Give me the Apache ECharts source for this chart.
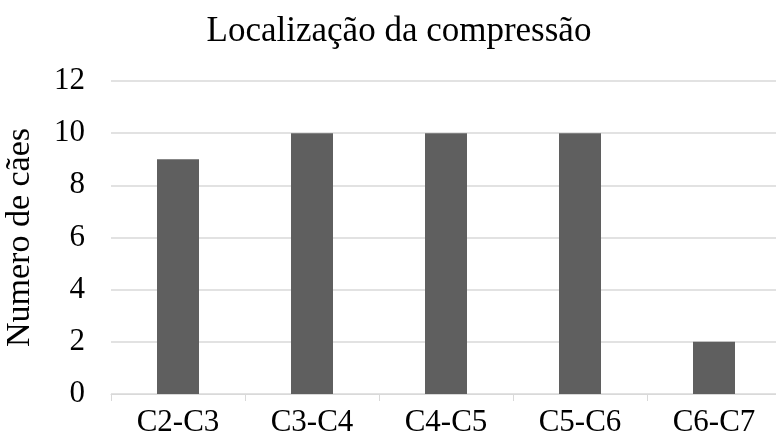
<!DOCTYPE html>
<html>
<head>
<meta charset="utf-8">
<script src="https://cdn.jsdelivr.net/npm/echarts@6/dist/echarts.min.js"></script>
<style>
  html, body { margin: 0; padding: 0; background: #fff; }
  #main { width: 776px; height: 444px; }
</style>
</head>
<body>
<div id="main"></div>
<script>
const categories = ['C2-C3', 'C3-C4', 'C4-C5', 'C5-C6', 'C6-C7']
const dogCounts = [9, 10, 10, 10, 2]
const yTicks = { min: 0, max: 12, interval: 2 }

const font = '"Liberation Serif", "Times New Roman", serif'
const chart = echarts.init(document.getElementById('main'))

let option = {
  animation: false,
  backgroundColor: '#ffffff',
  title: {
    text: 'Localização da compressão',
    left: 394,
    top: 9,
    textAlign: 'center',
    textStyle: { fontFamily: font, fontSize: 35, fontWeight: 'normal', color: '#000' },
  },
  grid: {
    left: 111,
    right: -5,
    top: 81,
    bottom: 50,
    containLabel: false,
    outerBoundsMode: 'none',
  },
  xAxis: {
    type: 'category',
    data: categories,
    axisLine: { lineStyle: { color: '#d9d9d9', width: 1 } },
    axisTick: { show: true, length: 7, lineStyle: { color: '#d9d9d9' } },
    axisLabel: { fontFamily: font, fontSize: 31, color: '#000', margin: 13 },
  },
  yAxis: {
    type: 'value',
    min: yTicks.min,
    max: yTicks.max,
    interval: yTicks.interval,
    name: 'Numero de cães',
    nameLocation: 'middle',
    nameGap: 74,
    nameTextStyle: { fontFamily: font, fontSize: 34, color: '#000' },
    axisLine: { show: false },
    axisTick: { show: false },
    axisLabel: { fontFamily: font, fontSize: 31, color: '#000', margin: 26 },
    splitLine: { lineStyle: { color: '#d9d9d9', width: 1.5 } },
  },
  series: [
    {
      type: 'bar',
      data: dogCounts,
      barWidth: 42,
      itemStyle: { color: '#5f5f5f' },
    },
  ],
}
chart.setOption(option)
</script>
</body>
</html>
